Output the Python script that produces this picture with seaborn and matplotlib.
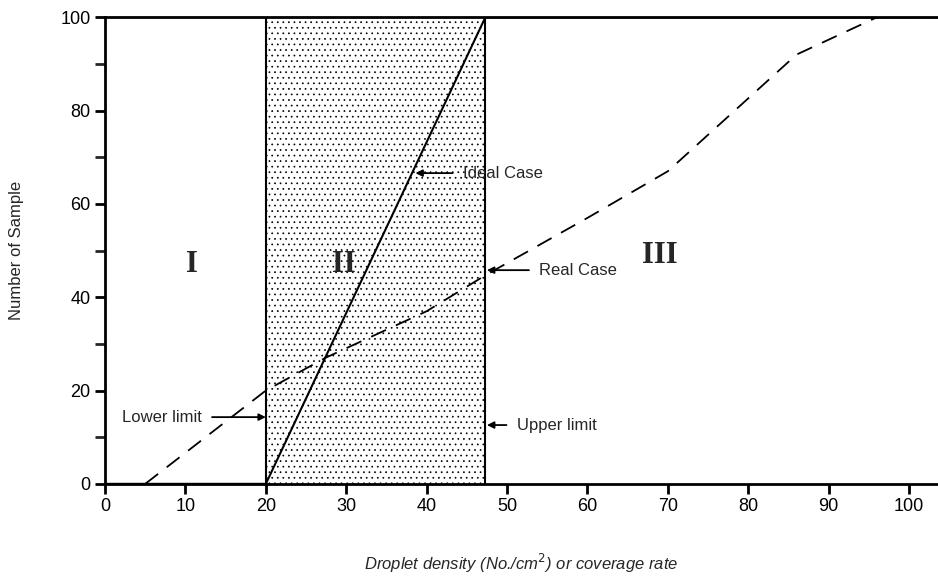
import matplotlib
matplotlib.use("Agg")
import matplotlib.pyplot as plt
import seaborn as sns
import pandas as pd

# data
ideal_x = [0, 20, 47.3, 103.6]
ideal_y = [0, 0, 100, 100]
real_x = [5, 20, 27.4, 40, 47.3, 60, 70, 86, 96, 103.6]
real_y = [0, 20, 27, 37, 44.7, 57, 67, 92, 100, 100]
lower_limit = 20
upper_limit = 47.3
zone_labels = ["I", "II", "III"]
zone_x = [10.8, 29.7, 69]
zone_y = [47, 47, 49]

sns.set_theme(style="ticks")
plt.rcParams["font.family"] = ["Liberation Sans", "DejaVu Sans"]
plt.rcParams["hatch.linewidth"] = 0.5

fig = plt.figure(figsize=(9.38, 5.76), dpi=100)
ax = fig.add_axes([0.112, 0.16, 0.888, 0.81])

# stippled acceptance zone
ax.fill_between([lower_limit, upper_limit], 0, 100, facecolor="white",
                edgecolor="black", hatch="...", linewidth=0)
ax.axvline(lower_limit, color="black", lw=1.5)
ax.axvline(upper_limit, color="black", lw=1.5)

ideal = pd.DataFrame({"x": ideal_x, "y": ideal_y})
real = pd.DataFrame({"x": real_x, "y": real_y})
sns.lineplot(data=ideal, x="x", y="y", ax=ax, color="black", lw=1.5,
             sort=False, estimator=None)
sns.lineplot(data=real, x="x", y="y", ax=ax, color="black", lw=1.3,
             sort=False, estimator=None, dashes=False, linestyle=(0, (9, 6)))

for lab, zx, zy in zip(zone_labels, zone_x, zone_y):
    ax.text(zx, zy, lab, family="Liberation Serif", fontweight="bold",
            fontsize=22, ha="center", va="center")

arrow = dict(arrowstyle="-|>", color="black", lw=1.3, mutation_scale=10,
             shrinkA=5, shrinkB=0)
ax.annotate("Ideal Case", xy=(38.6, 66.6), xytext=(44.5, 66.6), fontsize=12,
            va="center", arrowprops=arrow)
ax.annotate("Real Case", xy=(47.5, 45.8), xytext=(54, 45.8), fontsize=12,
            va="center", arrowprops=arrow)
ax.annotate("Lower limit", xy=(20, 14.3), xytext=(2.1, 14.3), fontsize=12,
            va="center", arrowprops=arrow)
ax.annotate("Upper limit", xy=(47.5, 12.6), xytext=(51.2, 12.6), fontsize=12,
            va="center", arrowprops=arrow)

ax.set_xlim(0, 103.6)
ax.set_ylim(0, 100)
ax.set_xticks(range(0, 101, 10))
ax.set_yticks(range(0, 101, 20))
ax.set_yticks(range(10, 100, 20), minor=True)
ax.tick_params(axis="both", which="major", labelsize=13, width=2, length=7,
               direction="out", colors="black")
ax.tick_params(axis="y", which="minor", width=2, length=7, direction="out")
for side in ["left", "bottom", "top"]:
    ax.spines[side].set_linewidth(2)
    ax.spines[side].set_color("black")
ax.spines["right"].set_visible(False)

ax.set_xlabel("Droplet density (No./cm$^2$) or coverage rate", fontsize=12,
              style="italic", labelpad=26)
ax.set_ylabel("Number of Sample", fontsize=12, labelpad=26)

fig.savefig("out.png", dpi=100)
